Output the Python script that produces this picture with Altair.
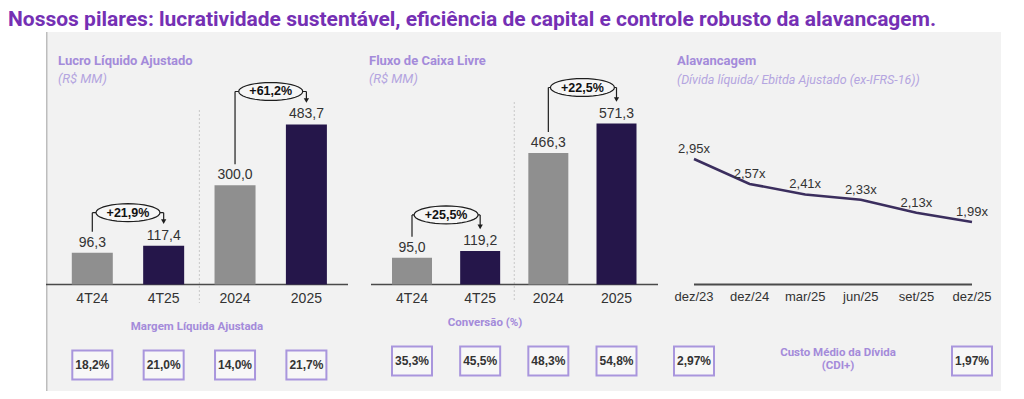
import math
import altair as alt
import pandas as pd

# ---------------- data ----------------
title_text = "Nossos pilares: lucratividade sustentável, eficiência de capital e controle robusto da alavancagem."

bar_categories = ["4T24", "4T25", "2024", "2025"]
bar_kinds = ["prev", "cur", "prev", "cur"]

lucro_values = [96.3, 117.4, 300.0, 483.7]
lucro_growth = ["+21,9%", "+61,2%"]
margem_liquida = ["18,2%", "21,0%", "14,0%", "21,7%"]

fluxo_values = [95.0, 119.2, 466.3, 571.3]
fluxo_growth = ["+25,5%", "+22,5%"]
conversao = ["35,3%", "45,5%", "48,3%", "54,8%"]

alav_categories = ["dez/23", "dez/24", "mar/25", "jun/25", "set/25", "dez/25"]
alav_values = [2.95, 2.57, 2.41, 2.33, 2.13, 1.99]
custo_divida = ["2,97%", "1,97%"]

# ---------------- styles ----------------
PANEL_BG = "#F2F2F2"
GRAY = "#8F8F8F"
DARK = "#25164A"
LINE = "#3B2E5E"
TITLE = "#7530B4"
PURPLE_T = "#A48BDA"
PURPLE_S = "#B4A5E0"
BOX = "#A996DD"
INK = "#1E1E1E"
NUM = "Liberation Sans"
TXT = "Roboto"
H = 359
BASE = 252.5


def br(v, d=1):
    return f"{v:.{d}f}".replace(".", ",")


ang = [k * math.pi / 18 for k in range(36)]
ELLIPSE = "M" + " L".join(f"{math.cos(a):.3f},{0.28 * math.sin(a):.3f}" for a in ang) + " Z"
BOXPATH = "M-1,-0.72 L1,-0.72 L1,0.72 L-1,0.72 Z"

one = pd.DataFrame({"a": [0]})


def text_at(x, y, txt, **kw):
    return alt.Chart(one).mark_text(**kw).encode(
        x=alt.value(x), y=alt.value(y), text=alt.value(txt)
    )


def bar_panel(width, title, subtitle, values, growth, box_title, boxes,
              x_first, x_step, ppu, bar_w, title_x, sep_y, base_x, level,
              box_y, box_title_y, box_title_x, left_border=False):
    n = len(values)
    xs = alt.Scale(domain=[0, n - 1], range=[x_first, x_first + x_step * (n - 1)],
                   nice=False, zero=False)
    ys = alt.Scale(domain=[0, BASE / ppu], range=[BASE, 0], nice=False)

    def X(f):
        return alt.X(f, type="quantitative", scale=xs, axis=None)

    def Y(f):
        return alt.Y(f, type="quantitative", scale=ys, axis=None)

    bars = pd.DataFrame({
        "i": list(range(n)),
        "cat": bar_categories,
        "v": values,
        "label": [br(v) for v in values],
        "kind": bar_kinds,
        "box": boxes,
    })
    pairs = pd.DataFrame({
        "i0": [0, 2], "i1": [1, 3], "mid": [0.5, 2.5],
        "v0": [values[0], values[2]], "v1": [values[1], values[3]],
        "g": growth,
    })
    sep = pd.DataFrame({"s": [(n - 1) / 2]})
    zero = pd.DataFrame({"z": [0]})

    layers = []
    if left_border:
        layers.append(alt.Chart(one).mark_rule(color="#BDBDBD", strokeWidth=1.5).encode(
            x=alt.value(0.75), y=alt.value(0), y2=alt.value(H)))
    layers += [
        text_at(title_x, 29, title, align="left", font=TXT, fontSize=13,
                fontWeight="bold", color=PURPLE_T),
        text_at(title_x, 47, subtitle, align="left", font=TXT, fontSize=13,
                fontStyle="italic", color=PURPLE_S),
        alt.Chart(sep).mark_rule(color="#C8C8C8", strokeDash=[2, 2]).encode(
            x=X("s"), y=alt.value(sep_y[0]), y2=alt.value(sep_y[1])),
        alt.Chart(zero).mark_rule(color="#4A4A4A", strokeWidth=1.5).encode(
            x=alt.value(base_x[0]), x2=alt.value(base_x[1]), y=Y("z")),
        alt.Chart(bars).mark_bar(width=bar_w).encode(
            x=X("i"), y=Y("v"),
            color=alt.Color("kind:N", scale=alt.Scale(domain=["prev", "cur"], range=[GRAY, DARK]),
                            legend=None)),
        alt.Chart(bars).mark_text(baseline="alphabetic", dy=-6, font=NUM, fontSize=14,
                                  color="#333333").encode(x=X("i"), y=Y("v"), text="label"),
        alt.Chart(bars).mark_text(baseline="alphabetic", font=NUM, fontSize=14,
                                  color="#333333").encode(x=X("i"), y=alt.value(271), text="cat"),
        # brackets
        alt.Chart(pairs).mark_rule(color=INK, strokeWidth=1.2, yOffset=-21, y2Offset=-level).encode(
            x=X("i0"), y=Y("v0"), y2=alt.Y2("v1")),
        alt.Chart(pairs).mark_rule(color=INK, strokeWidth=1.2, yOffset=-level).encode(
            x=X("i0"), x2=alt.X2("i1"), y=Y("v1")),
        alt.Chart(pairs).mark_rule(color=INK, strokeWidth=1.2, yOffset=-level, y2Offset=-25).encode(
            x=X("i1"), y=Y("v1"), y2=alt.Y2("v1")),
        alt.Chart(pairs).mark_point(shape="triangle-down", filled=True, color=INK, size=28,
                                    opacity=1, yOffset=-24).encode(x=X("i1"), y=Y("v1")),
        alt.Chart(pairs).mark_point(shape=ELLIPSE, size=64 ** 2, filled=True, fill="#F6F6F6",
                                    stroke=INK, strokeWidth=1.2, opacity=1,
                                    yOffset=-level).encode(x=X("mid"), y=Y("v1")),
        alt.Chart(pairs).mark_text(font=NUM, fontWeight="bold", fontSize=12.5, color="#111111",
                                   baseline="middle", dy=-level).encode(
            x=X("mid"), y=Y("v1"), text="g"),
        # boxes
        text_at(box_title_x, box_title_y, box_title, font=TXT, fontSize=11.5,
                fontWeight="bold", color=PURPLE_T),
        alt.Chart(bars).mark_point(shape=BOXPATH, size=40 ** 2, filled=True, fill="#F7F7F7",
                                   stroke=BOX, strokeWidth=2, opacity=1).encode(
            x=X("i"), y=alt.value(box_y)),
        alt.Chart(bars).mark_text(font=NUM, fontWeight="bold", fontSize=12, color="#333333",
                                  baseline="middle").encode(
            x=X("i"), y=alt.value(box_y), text="box"),
    ]
    return alt.layer(*layers).properties(
        width=width, height=H, view=alt.ViewBackground(fill=PANEL_BG, strokeWidth=0))


p1 = bar_panel(313, "Lucro Líquido Ajustado", "(R$ MM)", lucro_values, lucro_growth,
               "Margem Líquida Ajustada", margem_liquida,
               x_first=41.3, x_step=74.7, ppu=0.3308, bar_w=41, title_x=12,
               sep_y=(78, 271), base_x=(0, 302), level=33,
               box_y=333, box_title_y=295, box_title_x=151, left_border=True)

p2 = bar_panel(307, "Fluxo de Caixa Livre", "(R$ MM)", fluxo_values, fluxo_growth,
               "Conversão (%)", conversao,
               x_first=48, x_step=71.5, ppu=0.2818, bar_w=40, title_x=10,
               sep_y=(70, 270), base_x=(12, 299), level=36,
               box_y=329, box_title_y=291, box_title_x=126)

# ---- leverage panel ----
n3 = len(alav_values)
xs3 = alt.Scale(domain=[0, n3 - 1], range=[28, 306], nice=False, zero=False)
ys3 = alt.Scale(domain=[1, 3], range=[127 + 1.95 * 65.6, 127 - 0.05 * 65.6], nice=False, zero=False)
alav = pd.DataFrame({
    "i": list(range(n3)),
    "cat": alav_categories,
    "v": alav_values,
    "label": [br(v, 2) + "x" for v in alav_values],
})
custo = pd.DataFrame({"i": [0, n3 - 1], "box": custo_divida, "off": [8, -10]})
ends = pd.DataFrame({"i0": [0], "i1": [n3 - 1]})


def X3(f):
    return alt.X(f, type="quantitative", scale=xs3, axis=None)


def Y3(f):
    return alt.Y(f, type="quantitative", scale=ys3, axis=None)


p3 = alt.layer(
    text_at(11, 29, "Alavancagem", align="left", font=TXT, fontSize=13,
            fontWeight="bold", color=PURPLE_T),
    text_at(11, 48, "(Dívida líquida/ Ebitda Ajustado (ex-IFRS-16))", align="left", font=TXT,
            fontSize=12.5, fontStyle="italic", color=PURPLE_S),
    alt.Chart(ends).mark_rule(color="#4A4A4A", strokeWidth=2).encode(
        x=X3("i0"), x2=alt.X2("i1"), y=alt.value(BASE)),
    alt.Chart(alav).mark_line(color=LINE, strokeWidth=2.5).encode(x=X3("i"), y=Y3("v")),
    alt.Chart(alav).mark_text(baseline="alphabetic", dy=-6, font=NUM, fontSize=13,
                              color="#333333").encode(x=X3("i"), y=Y3("v"), text="label"),
    alt.Chart(alav).mark_text(baseline="alphabetic", font=NUM, fontSize=13,
                              color="#333333").encode(x=X3("i"), y=alt.value(269), text="cat"),
    alt.Chart(one).mark_text(font=TXT, fontSize=11.5, fontWeight="bold", color=PURPLE_T,
                             lineBreak="\n", lineHeight=13, baseline="middle").encode(
        x=alt.value(172), y=alt.value(321), text=alt.value("Custo Médio da Dívida\n(CDI+)")),
    alt.Chart(custo).mark_point(shape=BOXPATH, size=40 ** 2, filled=True, fill="#F7F7F7",
                                stroke=BOX, strokeWidth=2, opacity=1).encode(
        x=X3("i"), y=alt.value(329), xOffset=alt.XOffset("off:Q", scale=None)),
    alt.Chart(custo).mark_text(font=NUM, fontWeight="bold", fontSize=12, color="#333333",
                               baseline="middle").encode(
        x=X3("i"), y=alt.value(329), text="box", xOffset=alt.XOffset("off:Q", scale=None)),
).properties(width=335, height=H, view=alt.ViewBackground(fill=PANEL_BG, strokeWidth=0))

spacer = alt.Chart(one).mark_point(opacity=0).encode(
    x=alt.value(10), y=alt.value(10)
).properties(width=37, height=H, view=alt.ViewBackground(fill="white", strokeWidth=0))

top = alt.Chart(one).mark_text(align="left", baseline="alphabetic", font=TXT, fontSize=21,
                               fontWeight="bold", color=TITLE).encode(
    x=alt.value(0), y=alt.value(16.5), text=alt.value(title_text)
).properties(width=992, height=22, view=alt.ViewBackground(fill="white", strokeWidth=0))

chart = alt.vconcat(
    top,
    alt.hconcat(spacer, p1, p2, p3, spacing=0),
    spacing=0,
).properties(padding=0, background="white").configure_view(strokeWidth=0)

chart.save("out.html", embed_options={"renderer": "svg", "actions": False})
